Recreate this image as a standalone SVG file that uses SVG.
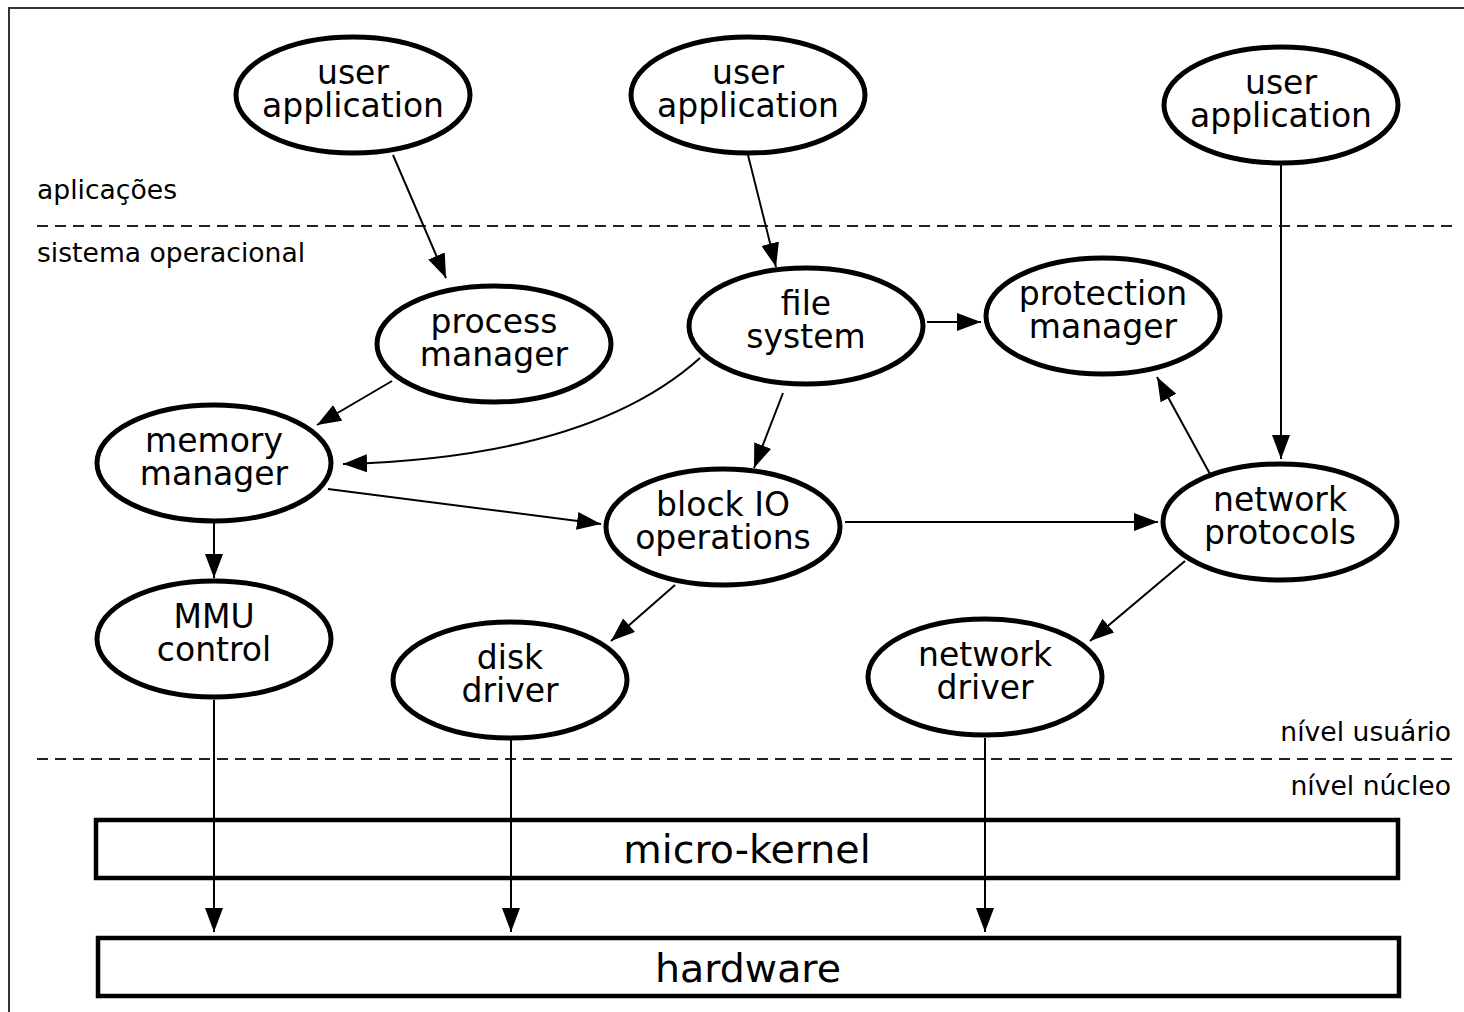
<svg xmlns="http://www.w3.org/2000/svg" width="1464" height="1012" viewBox="0 0 1464 1012">
<defs>
<style>
.node ellipse{fill:#fff;stroke:#000;stroke-width:5}
.box{fill:#fff;stroke:#000;stroke-width:4.5}
.t{font-family:"DejaVu Sans",sans-serif;font-size:33px;fill:#000;text-anchor:middle}
.big{font-family:"DejaVu Sans",sans-serif;font-size:39.5px;fill:#000;text-anchor:middle}
.lbl{font-family:"DejaVu Sans",sans-serif;font-size:26.6px;fill:#000}
.edge{fill:none;stroke:#000;stroke-width:2}
.dash{fill:none;stroke:#222;stroke-width:2;stroke-dasharray:11 7}
</style>
<marker id="ah" viewBox="0 0 24 18" refX="24" refY="9" markerWidth="24" markerHeight="18" markerUnits="userSpaceOnUse" orient="auto">
<path d="M0,0 L24,9 L0,18 z" fill="#000"/>
</marker>
</defs>
<rect x="0" y="0" width="1464" height="1012" fill="#fff"/>
<rect x="9" y="8" width="1470" height="1020" fill="none" stroke="#333" stroke-width="2"/>

<g id="layers">
<line class="dash" x1="37" y1="226" x2="1452" y2="226"/>
<line class="dash" x1="37" y1="759" x2="1452" y2="759"/>
<text class="lbl" x="37" y="199">aplicações</text>
<text class="lbl" x="37" y="262">sistema operacional</text>
<text class="lbl" x="1451" y="741" text-anchor="end">nível usuário</text>
<text class="lbl" x="1451" y="795" text-anchor="end">nível núcleo</text>
</g>

<g id="micro-kernel"><rect class="box" x="96" y="820" width="1302" height="58"/><text class="big" x="747" y="863">micro-kernel</text></g>
<g id="hardware"><rect class="box" x="98" y="938" width="1301" height="58"/><text class="big" x="748" y="982">hardware</text></g>

<g id="connectors">
<line class="edge" x1="393" y1="155" x2="446" y2="278" marker-end="url(#ah)"/>
<line class="edge" x1="748" y1="155" x2="776" y2="267" marker-end="url(#ah)"/>
<line class="edge" x1="1281" y1="165" x2="1281" y2="459" marker-end="url(#ah)"/>
<line class="edge" x1="392" y1="381" x2="317" y2="425" marker-end="url(#ah)"/>
<path class="edge" d="M700,358 C620,430 490,460 343,464" marker-end="url(#ah)"/>
<line class="edge" x1="927" y1="322" x2="981" y2="322" marker-end="url(#ah)"/>
<line class="edge" x1="783" y1="393" x2="754" y2="468" marker-end="url(#ah)"/>
<line class="edge" x1="328" y1="489" x2="601" y2="524" marker-end="url(#ah)"/>
<line class="edge" x1="214" y1="523" x2="214" y2="578" marker-end="url(#ah)"/>
<line class="edge" x1="845" y1="522" x2="1158" y2="522" marker-end="url(#ah)"/>
<line class="edge" x1="1210" y1="474" x2="1157" y2="377" marker-end="url(#ah)"/>
<line class="edge" x1="675" y1="585" x2="611" y2="641" marker-end="url(#ah)"/>
<line class="edge" x1="1185" y1="561" x2="1090" y2="641" marker-end="url(#ah)"/>
<line class="edge" x1="214" y1="700" x2="214" y2="932" marker-end="url(#ah)"/>
<line class="edge" x1="511" y1="740" x2="511" y2="932" marker-end="url(#ah)"/>
<line class="edge" x1="985" y1="738" x2="985" y2="932" marker-end="url(#ah)"/>
</g>

<g id="ua1" class="node"><ellipse cx="353" cy="95" rx="117" ry="58"/><text class="t" x="353" y="84">user<tspan x="353" dy="33">application</tspan></text></g>
<g id="ua2" class="node"><ellipse cx="748" cy="95" rx="117" ry="58"/><text class="t" x="748" y="84">user<tspan x="748" dy="33">application</tspan></text></g>
<g id="ua3" class="node"><ellipse cx="1281" cy="105" rx="117" ry="58"/><text class="t" x="1281" y="94">user<tspan x="1281" dy="33">application</tspan></text></g>
<g id="process-manager" class="node"><ellipse cx="494" cy="344" rx="117" ry="58"/><text class="t" x="494" y="333">process<tspan x="494" dy="33">manager</tspan></text></g>
<g id="file-system" class="node"><ellipse cx="806" cy="326" rx="117" ry="58"/><text class="t" x="806" y="315">file<tspan x="806" dy="33">system</tspan></text></g>
<g id="protection-manager" class="node"><ellipse cx="1103" cy="316" rx="117" ry="58"/><text class="t" x="1103" y="305">protection<tspan x="1103" dy="33">manager</tspan></text></g>
<g id="memory-manager" class="node"><ellipse cx="214" cy="463" rx="117" ry="58"/><text class="t" x="214" y="452">memory<tspan x="214" dy="33">manager</tspan></text></g>
<g id="block-io" class="node"><ellipse cx="723" cy="527" rx="117" ry="58"/><text class="t" x="723" y="516">block IO<tspan x="723" dy="33">operations</tspan></text></g>
<g id="network-protocols" class="node"><ellipse cx="1280" cy="522" rx="117" ry="58"/><text class="t" x="1280" y="511">network<tspan x="1280" dy="33">protocols</tspan></text></g>
<g id="mmu-control" class="node"><ellipse cx="214" cy="639" rx="117" ry="58"/><text class="t" x="214" y="628">MMU<tspan x="214" dy="33">control</tspan></text></g>
<g id="disk-driver" class="node"><ellipse cx="510" cy="680" rx="117" ry="58"/><text class="t" x="510" y="669">disk<tspan x="510" dy="33">driver</tspan></text></g>
<g id="network-driver" class="node"><ellipse cx="985" cy="677" rx="117" ry="58"/><text class="t" x="985" y="666">network<tspan x="985" dy="33">driver</tspan></text></g>
</svg>
